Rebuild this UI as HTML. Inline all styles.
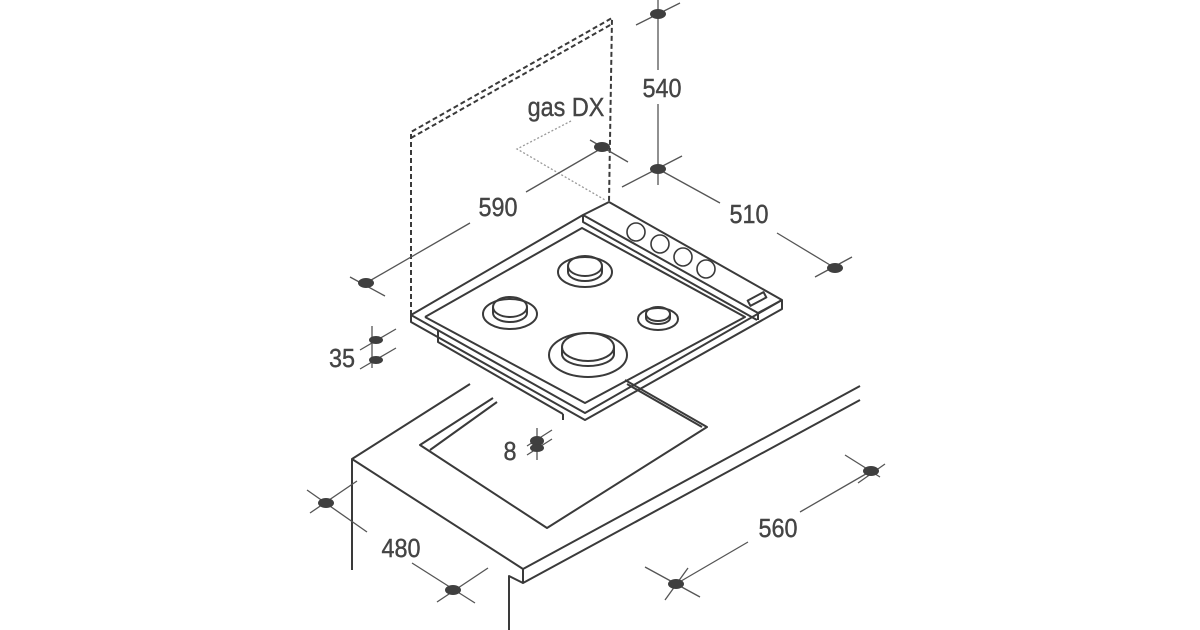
<!DOCTYPE html>
<html><head><meta charset="utf-8"><style>
html,body{margin:0;padding:0;background:#fff;}
svg{display:block}
text{font-family:"Liberation Sans",sans-serif;font-size:26px;fill:#444;stroke:#444;stroke-width:0.4;}
</style></head><body>
<svg width="1200" height="630" viewBox="0 0 1200 630" xmlns="http://www.w3.org/2000/svg">
<g fill="none" stroke="#3a3a3a" stroke-width="2" stroke-linejoin="round">
<polyline points="352,570 352,459 470,384"/>
<polyline points="352,459 523,569 860,386"/>
<polyline points="523,569 523,583 860,400"/>
<polyline points="509,630 509,576 523,583"/>
<polyline points="493,398 420,445 547,528 707,427 625,380"/>
<polyline points="497,402 430,450"/>
<polyline points="702,427 627,384"/>
<polyline points="438,330 438,342 563,414"/>
<polyline points="563,414 563,420"/>
<polygon points="411,315 583,215 609,202 782,300 782,309 585,420 411,322"/>
<polyline points="411,315 585,413 782,300"/>
<polyline points="425,317 582,228 745,317 585,403 425,317"/>
<polyline points="583,215 583,222 757,320"/>
<polyline points="583,215 758,313 782,300"/>
<polyline points="758,313 758,320"/>
<rect x="748" y="296" width="18" height="6" transform="rotate(-28 757 299)"/>
<ellipse cx="585" cy="272" rx="27" ry="15"/><ellipse cx="585" cy="266" rx="17" ry="10"/><path d="M568,266 v6 a17,9 0 0 0 34,0 v-6"/>
<ellipse cx="510" cy="314" rx="27" ry="15"/><ellipse cx="510" cy="307" rx="17" ry="10"/><path d="M493,307 v6 a17,9 0 0 0 34,0 v-6"/>
<ellipse cx="658" cy="319" rx="20" ry="11"/><ellipse cx="658" cy="314" rx="12" ry="7"/><path d="M646,314 v4 a12,6 0 0 0 24,0 v-4"/>
<ellipse cx="588" cy="355" rx="39" ry="22"/><ellipse cx="588" cy="347" rx="26" ry="14"/><path d="M562,347 v7 a26,12 0 0 0 52,0 v-7"/>
<g stroke-width="1.6">
<circle cx="636" cy="232" r="9"/><circle cx="660" cy="244" r="9"/><circle cx="683" cy="257" r="9"/><circle cx="706" cy="269" r="9"/>
</g>
</g>
<g fill="none" stroke="#3a3a3a" stroke-width="2" stroke-dasharray="5,3">
<polyline points="411,315 411,132 612,18 609,202"/>
<polyline points="411,138 612,24"/>
</g>
<g fill="none" stroke="#999" stroke-width="1.3" stroke-dasharray="2,2">
<polyline points="571,121 517,149 605,200"/>
</g>
<g fill="none" stroke="#555" stroke-width="1.3">
<line x1="658" y1="0" x2="658" y2="70"/><line x1="658" y1="104" x2="658" y2="185"/>
<line x1="636" y1="25" x2="680" y2="3"/><line x1="622" y1="187" x2="682" y2="156"/>
<line x1="366" y1="283" x2="470" y2="223"/><line x1="526" y1="192" x2="602" y2="148"/>
<line x1="350" y1="277" x2="385" y2="296"/><line x1="590" y1="140" x2="628" y2="162"/>
<line x1="660" y1="170" x2="720" y2="203"/><line x1="777" y1="233" x2="835" y2="268"/>
<line x1="815" y1="277" x2="852" y2="257"/>
<line x1="372" y1="326" x2="372" y2="368"/><line x1="360" y1="350" x2="396" y2="329"/><line x1="360" y1="369" x2="396" y2="348"/>
<line x1="537" y1="428" x2="537" y2="460"/><line x1="527" y1="446" x2="552" y2="430"/><line x1="527" y1="455" x2="552" y2="439"/>
<line x1="307" y1="490" x2="367" y2="532"/><line x1="310" y1="513" x2="357" y2="481"/>
<line x1="412" y1="563" x2="475" y2="603"/><line x1="437" y1="602" x2="488" y2="568"/>
<line x1="676" y1="584" x2="748" y2="542"/><line x1="800" y1="512" x2="871" y2="471"/>
<line x1="645" y1="567" x2="700" y2="597"/><line x1="665" y1="600" x2="688" y2="568"/>
<line x1="845" y1="455" x2="880" y2="477"/><line x1="858" y1="483" x2="885" y2="464"/>
</g>
<g fill="#3f3f3f">
<ellipse cx="658" cy="14" rx="8" ry="5"/><ellipse cx="658" cy="169" rx="8" ry="5"/>
<ellipse cx="366" cy="283" rx="8" ry="5"/><ellipse cx="602" cy="147" rx="8" ry="5"/>
<ellipse cx="835" cy="268" rx="8" ry="5"/>
<ellipse cx="376" cy="340" rx="7" ry="4"/><ellipse cx="376" cy="360" rx="7" ry="4"/>
<ellipse cx="537" cy="441" rx="7" ry="5"/><ellipse cx="537" cy="448" rx="7" ry="4"/>
<ellipse cx="326" cy="503" rx="8" ry="5"/><ellipse cx="453" cy="590" rx="8" ry="5"/>
<ellipse cx="871" cy="471" rx="8" ry="5"/><ellipse cx="676" cy="584" rx="8" ry="5"/>
</g>
<g>
<text x="662" y="97" text-anchor="middle" transform="translate(662 0) scale(0.9 1) translate(-662 0)">540</text>
<text x="498" y="216" text-anchor="middle" transform="translate(498 0) scale(0.9 1) translate(-498 0)">590</text>
<text x="749" y="223" text-anchor="middle" transform="translate(749 0) scale(0.9 1) translate(-749 0)">510</text>
<text x="566" y="116" text-anchor="middle" transform="translate(566 0) scale(0.9 1) translate(-566 0)">gas DX</text>
<text x="342" y="367" text-anchor="middle" transform="translate(342 0) scale(0.9 1) translate(-342 0)">35</text>
<text x="510" y="460" text-anchor="middle" transform="translate(510 0) scale(0.9 1) translate(-510 0)">8</text>
<text x="401" y="557" text-anchor="middle" transform="translate(401 0) scale(0.9 1) translate(-401 0)">480</text>
<text x="778" y="537" text-anchor="middle" transform="translate(778 0) scale(0.9 1) translate(-778 0)">560</text>
</g>
</svg>
</body></html>
